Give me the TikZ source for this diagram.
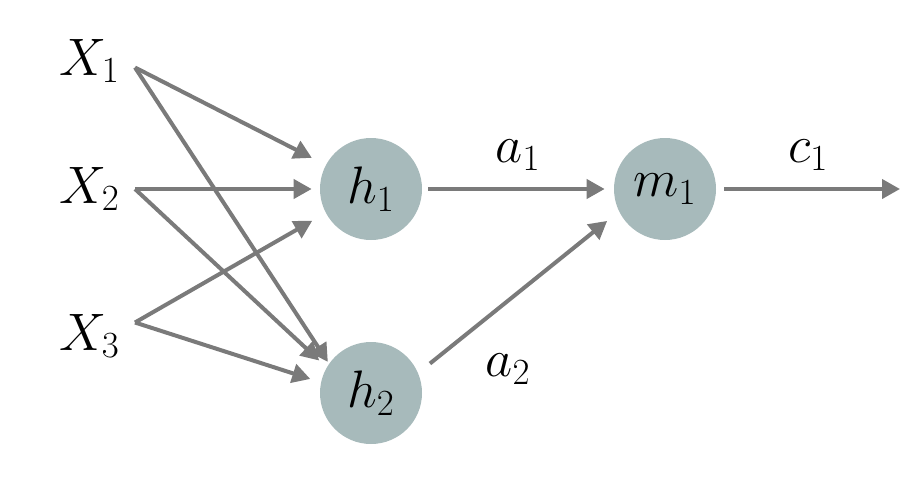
\RequirePackage{fix-cm}
\documentclass[tikz,border=0pt]{standalone}
\usetikzlibrary{arrows.meta,positioning}

\definecolor{unitfill}{RGB}{167,186,187}
\definecolor{wiregray}{RGB}{122,122,122}

\begin{document}
\begin{tikzpicture}[
    node distance=4cm,
    unit/.style={
        circle,
        fill=unitfill,
        minimum size=2.04cm,
        inner sep=0pt,
        font=\fontsize{30}{36}\selectfont
    },
    feature/.style={
        inner xsep=0.3cm,
        inner ysep=0pt,
        font=\fontsize{30}{36}\selectfont
    },
    weight/.style={
        font=\fontsize{30}{36}\selectfont
    },
    wire/.style={
        draw=wiregray,
        line width=0.08cm,
        -{Triangle[length=0.36cm,width=0.38cm]}
    }
]
\useasboundingbox (0,0) rectangle (18.48,-9.58);

% Unita nascoste e uscita
\node[unit] (h1) at (7.42,-3.78) {$h_1$};
\node[unit, below of=h1, node distance=4.08cm] (h2) {$h_2$};
\node[unit, right of=h1, node distance=5.88cm] (m1) {$m_1$};
\coordinate[right of=m1, node distance=4.7cm] (out);

% Ingressi
\node[feature, anchor=east] (x2) at (2.70,-3.78) {$X_2$};
\node[feature, above of=x2, node distance=2.56cm] (x1) {$X_1$};
\node[feature, below of=x2, node distance=2.94cm] (x3) {$X_3$};

% Collegamenti ingressi -> nascosti
\draw[wire, shorten >=0.31cm] ([yshift=-0.13cm]x1.east) -- (h1.152);
\draw[wire, shorten >=0.04cm] ([yshift=-0.13cm]x1.east) -- (h2.145);
\draw[wire, shorten >=0.16cm] (x2.east) -- (h1.west);
\draw[wire, shorten >=0.2cm] (x2.east) -- (h2.150);
\draw[wire, shorten >=0.31cm] ([yshift=0.27cm]x3.east) -- (h1.208);
\draw[wire, shorten >=0.22cm] ([yshift=0.27cm]x3.east) -- (h2.168);

% Nascosti -> uscita
\draw[wire, shorten <=0.12cm, shorten >=0.18cm] (h1) -- (m1) node[midway, above=0.22cm, weight] {$a_1$};
\draw[wire, shorten <=0.3cm, shorten >=0.3cm] (h2.23) -- (m1.206);
\node[weight] (a2) at (10.16,-7.38) {$a_2$};
\draw[wire, shorten <=0.16cm] (m1) -- (out) node[midway, above=0.22cm, weight] {$c_1$};

\end{tikzpicture}
\end{document}
